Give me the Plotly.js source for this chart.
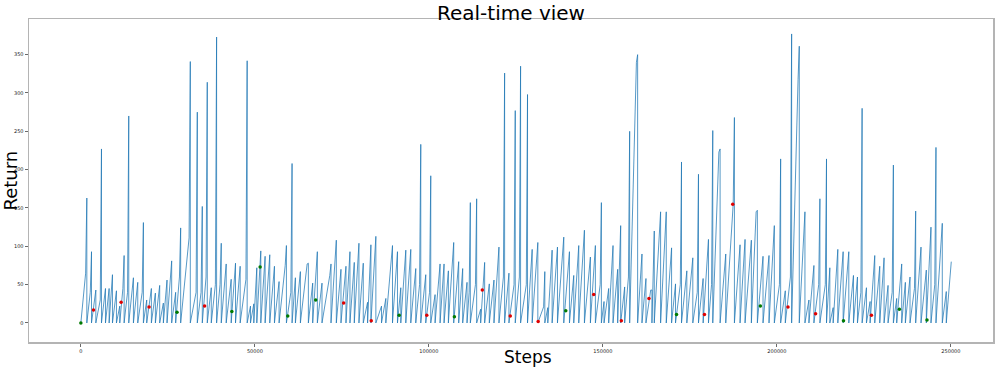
<!DOCTYPE html>
<html>
<head>
<meta charset="utf-8">
<script src="https://cdn.plot.ly/plotly-3.0.1.min.js"></script>
<style>
  html, body { margin: 0; padding: 0; background: #fff; }
  #chart { width: 1000px; height: 368px; }
</style>
</head>
<body>
<div id="chart"></div>
<script>
// step at which each episode ends, and its return
const episodeEnd = [
  1721, 3059, 4302, 5927, 7074, 8126, 9082, 10229, 11185, 12428,
  13766, 15105, 16348, 17973, 18929, 20267, 21414, 22657, 23709, 24760,
  26099, 27246, 28680, 31452, 33460, 34894, 36328, 37475, 39005, 40343,
  41763, 43197, 44440, 45778, 47786, 48742, 49698, 50558, 51705, 52948,
  54287, 55625, 56963, 59067, 60692, 61648, 63082, 65376, 66619, 67957,
  69296, 71877, 73407, 74745, 76179, 77326, 78569, 79907, 81150, 82393,
  83349, 84768, 86393, 87636, 89548, 90982, 91938, 93372, 94806, 96240,
  97674, 99108, 100542, 101785, 103219, 104366, 105609, 107138, 108572, 109720,
  110962, 111918, 113735, 114882, 116029, 117368, 118706, 120140, 121765, 123008,
  124824, 126354, 128347, 129685, 131310, 133318, 134178, 135421, 136951, 138767,
  140392, 141635, 143069, 144694, 146415, 147849, 149570, 150335, 151673, 152916,
  154254, 155115, 156262, 157696, 159990, 161233, 162380, 164101, 164770, 166587,
  168212, 169742, 170874, 172594, 174124, 175845, 177470, 178808, 180338, 181581,
  183684, 185309, 187795, 189420, 190854, 192670, 194391, 196016, 197737, 199267,
  201083, 202422, 204238, 206437, 208062, 209209, 210643, 212364, 214261, 215217,
  216173, 217511, 219041, 220666, 222005, 223152, 224490, 225733, 226785, 228123,
  229557, 230800, 231947, 233477, 234433, 235867, 236918, 238257, 239882, 241411,
  242941, 244279, 245713, 247530, 248677, 250111
];
const episodeReturn = [
  163, 93, 43, 227, 45, 45, 63, 42, 22, 88,
  270, 59, 53, 131, 30, 45, 39, 49, 26, 56,
  81, 40, 124, 341, 275, 152, 314, 46, 373, 104,
  77, 57, 78, 74, 342, 22, 25, 72, 94, 87,
  89, 74, 54, 101, 208, 59, 67, 78, 52, 93,
  52, 77, 108, 70, 74, 93, 79, 104, 78, 27,
  102, 113, 22, 32, 101, 93, 46, 95, 96, 71,
  233, 63, 192, 37, 77, 77, 68, 105, 80, 71,
  53, 157, 162, 18, 79, 51, 56, 99, 326, 65,
  277, 335, 298, 96, 105, 67, 20, 95, 99, 112,
  93, 62, 101, 121, 86, 101, 157, 28, 45, 101,
  70, 127, 47, 250, 350, 90, 58, 43, 120, 145,
  145, 98, 51, 210, 68, 85, 194, 58, 109, 251,
  227, 90, 268, 102, 109, 108, 147, 87, 88, 127,
  214, 42, 377, 361, 145, 30, 75, 162, 214, 72,
  20, 96, 93, 93, 62, 60, 280, 46, 28, 88,
  74, 85, 49, 206, 32, 77, 53, 60, 146, 99,
  69, 125, 229, 130, 41, 80
];
// return reached just before the last big reward of an episode (null = steady climb)
const episodeBase = [
  65, 40, null, 30, null, null, null, null, null, 45,
  40, null, null, 40, null, null, null, null, null, null,
  null, null, 60, 111, 40, 40, 60, null, 50, 50,
  null, null, null, null, 57, null, null, null, null, null,
  null, null, null, 75, 40, null, null, 77, null, null,
  null, 62, null, null, null, null, null, null, null, null,
  null, null, null, null, null, null, null, null, null, null,
  50, null, 40, null, null, null, null, null, null, null,
  null, 40, 50, null, null, null, null, null, 60, null,
  50, 60, 50, null, null, 21, null, null, null, null,
  null, null, null, null, null, null, 50, null, null, null,
  null, null, null, 60, 340, null, null, 43, null, null,
  null, null, null, 50, null, null, 40, null, null, 50,
  223, null, 155, null, null, null, 145, null, null, null,
  50, null, 60, 318, null, null, null, 50, 50, null,
  null, null, null, null, null, null, 40, null, null, null,
  null, null, null, 40, null, null, null, null, 45, null,
  null, null, 50, null, null, null
];

// evaluation markers
const redSteps = [3633, 11568, 19598, 35563, 75509, 83445, 99395, 115360, 123390,
  131406, 147371, 155306, 163241, 179191, 187317, 203186, 211121, 227167];
const redReturns = [17, 27, 21, 22, 26, 3, 10, 43, 9,
  2, 37, 3, 32, 11, 155, 21, 12, 10];
const greenSteps = [0, 27628, 43388, 51514, 59449, 67479, 91460, 107330, 139341,
  171160, 195252, 219137, 235197, 243132];
const greenReturns = [0, 14, 15, 73, 9, 30, 10, 8, 16,
  11, 22, 3, 18, 4];

const xs = [0];
const ys = [0];
episodeEnd.forEach((end, i) => {
  if (episodeBase[i] !== null) {
    xs.push(end - 350);
    ys.push(episodeBase[i]);
  }
  xs.push(end);
  ys.push(episodeReturn[i]);
  if (i < episodeEnd.length - 1) {
    xs.push(end);
    ys.push(0);
  }
});

const FONT = "'DejaVu Sans', sans-serif";

const traces = [
  {
    type: "scatter",
    mode: "lines",
    x: xs,
    y: ys,
    line: { color: "#1f77b4", width: 1 },
    opacity: 0.75,
    hoverinfo: "skip",
  },
  {
    type: "scatter",
    mode: "markers",
    x: redSteps,
    y: redReturns,
    marker: { color: "#e00000", size: 3.5 },
  },
  {
    type: "scatter",
    mode: "markers",
    x: greenSteps,
    y: greenReturns,
    marker: { color: "#007a00", size: 3.5 },
  },
];

const axisStyle = {
  showgrid: false,
  zeroline: false,
  showline: true,
  mirror: true,
  linecolor: "#b4b4b4",
  linewidth: 1.5,
  ticks: "outside",
  ticklen: 3,
  tickwidth: 0.8,
  tickcolor: "#444",
  tickfont: { size: 5, family: FONT, color: "#222" },
  automargin: false,
};

function label(text, x, y, size, angle) {
  return {
    text: text,
    xref: "paper", yref: "paper",
    x: x, y: y,
    xanchor: "center", yanchor: "middle",
    textangle: angle || 0,
    showarrow: false,
    font: { size: size, family: FONT, color: "#000" },
  };
}

const layout = {
  width: 1000,
  height: 368,
  paper_bgcolor: "#fff",
  plot_bgcolor: "#fff",
  showlegend: false,
  margin: { l: 29, r: 7, t: 19, b: 26 },
  font: { family: FONT, color: "#000" },
  xaxis: Object.assign({}, axisStyle, {
    range: [-14900, 262100],
    tickvals: [0, 50000, 100000, 150000, 200000, 250000],
    ticktext: ["0", "50000", "100000", "150000", "200000", "250000"],
  }),
  yaxis: Object.assign({}, axisStyle, {
    range: [-24.8, 396.5],
    tickvals: [0, 50, 100, 150, 200, 250, 300, 350],
  }),
  annotations: [
    label("Real-time view", 0.5, 1.019, 20),
    label("Steps", 0.5176, -0.047, 17),
    label("Return", -0.0197, 0.5, 18, -90),
  ],
};

Plotly.newPlot("chart", traces, layout, { displayModeBar: false, staticPlot: true });
</script>
</body>
</html>
